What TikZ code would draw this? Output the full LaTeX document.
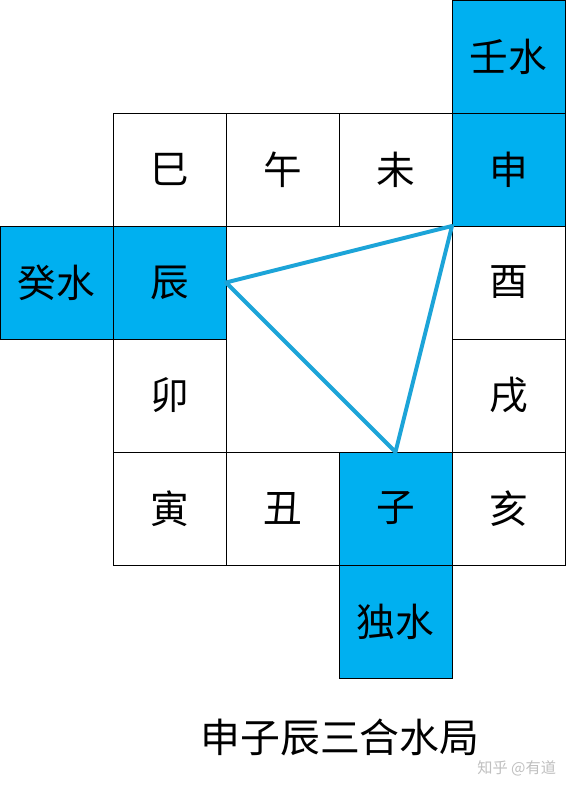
\documentclass[tikz,border=0pt]{standalone}
\usepackage{fontspec}
\setmainfont{Noto Sans CJK SC}
\usetikzlibrary{positioning}
\definecolor{waterblue}{RGB}{0,176,240}
\definecolor{lineblue}{RGB}{28,164,216}

\begin{document}
\begin{tikzpicture}[cellnode/.style={rectangle, draw=black, line width=0.8pt, minimum size=3.39cm, inner sep=0pt, outer sep=0pt, font=\fontsize{33}{40}\selectfont},
                    waternode/.style={cellnode, fill=waterblue}, node distance=0cm and 0cm]
                    \useasboundingbox (0,0) rectangle (17.01,-23.79);
                    \node[cellnode] (1-1) at (5.085,-5.085) {巳};
                    \node[cellnode] (1-2) [right= of 1-1] {午};
                    \node[cellnode] (1-3) [right= of 1-2] {未};
                    \node[waternode] (1-4) [right= of 1-3] {申};
                    \node[waternode] (0-4) [above= of 1-4] {壬水};
                    \node[waternode] (2-1) [below= of 1-1] {辰};
                    \node[waternode] (2-0) [left= of 2-1] {癸水};
                    \node[cellnode] (3-1) [below= of 2-1] {卯};
                    \node[cellnode] (4-1) [below= of 3-1] {寅};
                    \node[cellnode] (4-2) [right= of 4-1] {丑};
                    \node[waternode] (4-3) [right= of 4-2] {子};
                    \node[cellnode] (4-4) [right= of 4-3] {亥};
                    \node[waternode] (5-3) [below= of 4-3] {独水};
                    \node[cellnode] (2-4) [below= of 1-4] {酉};
                    \node[cellnode] (3-4) [below= of 2-4] {戌};

                    \draw[lineblue, line width=3.4pt, line join=round] (2-1.east) -- (1-4.south west) -- (4-3.north) -- cycle;

                    \node (title) at (10.2,-22.11) {\fontsize{34}{40}\selectfont 申子辰三合水局};
                    \node[text=black!25] (mark) at (15.5,-23.04) {\fontsize{13}{15}\selectfont 知乎 @有道};
                    \end{tikzpicture}
\end{document}
